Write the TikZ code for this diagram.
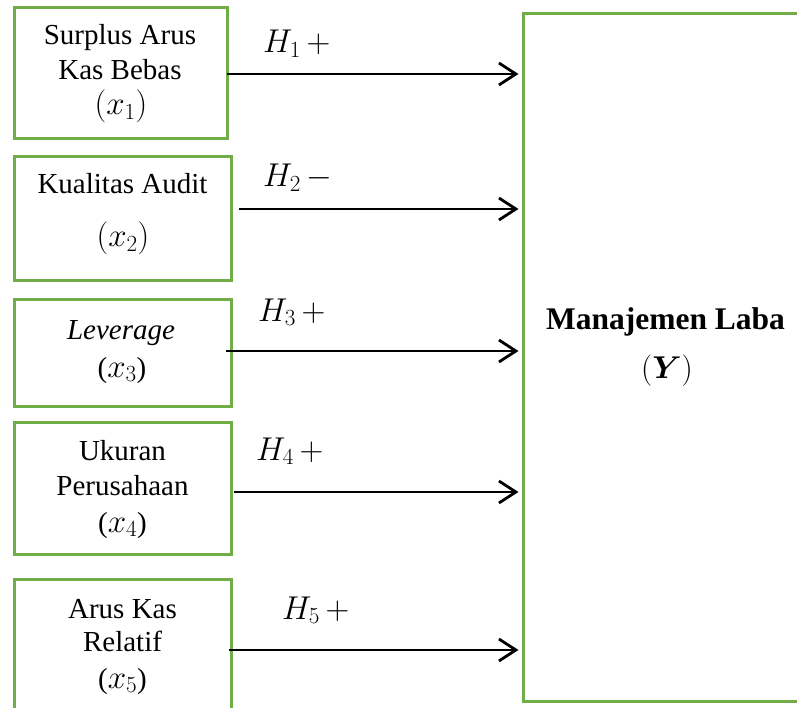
\documentclass[tikz,border=0pt]{standalone}
\usepackage{fix-cm}
\usepackage{amsmath}
\usepackage{fontspec}
\setmainfont{Liberation Serif}
\usetikzlibrary{arrows.meta}
\definecolor{boxgreen}{RGB}{112,173,71}
\tikzset{
  box/.style={draw=boxgreen, line width=3pt, rectangle, inner sep=0pt},
  txt/.style={anchor=base, inner sep=0pt, font=\fontsize{29}{35}\selectfont},
  mtxt/.style={anchor=base, inner sep=0pt, font=\fontsize{33}{38}\selectfont},
  btxt/.style={anchor=base, inner sep=0pt, font=\fontsize{31.5}{38}\selectfont\bfseries},
  hyp/.style={anchor=base west, inner sep=0pt, font=\fontsize{33}{38}\selectfont},
  link/.style={line width=2.8pt, -{Straight Barb[length=17pt,width=22pt,line width=2.8pt]}, shorten >=3pt}
}
\begin{document}
\begin{tikzpicture}[x=1pt,y=-1pt]
\useasboundingbox (0,0) rectangle (797,708);
% boxes
\node[box, minimum width=213, minimum height=131] (b1) at (120.5,73.5) {};
\node[box, minimum width=217, minimum height=124] (b2) at (122.5,219) {};
\node[box, minimum width=217, minimum height=106] (b3) at (122.5,353) {};
\node[box, minimum width=217, minimum height=132] (b4) at (122.5,488) {};
\node[box, minimum width=217, minimum height=136] (b5) at (122.5,647) {};
\node[box, minimum width=278, minimum height=687] (Y) at (662,357.5) {};
% texts
\node[txt] (t1a) at (120,45) {Surplus Arus};
\node[txt] (t1b) at (120,80) {Kas Bebas};
\node[mtxt] (t1c) at (121,115) {$(x_1)$};
\node[txt] (t2a) at (122.5,194) {Kualitas Audit};
\node[mtxt] (t2b) at (123,247) {$(x_2)$};
\node[txt] (t3a) at (121,339) {\itshape Leverage};
\node[txt] (t3b) at (122,377) {({\fontsize{33}{38}\selectfont$x_3$})};
\node[txt] (t4a) at (122.5,460) {Ukuran};
\node[txt] (t4b) at (122.5,495) {Perusahaan};
\node[txt] (t4c) at (122.5,532) {({\fontsize{33}{38}\selectfont$x_4$})};
\node[txt] (t5a) at (122.5,618) {Arus Kas};
\node[txt] (t5b) at (122.5,651) {Relatif};
\node[txt] (t5c) at (122.5,688) {({\fontsize{33}{38}\selectfont$x_5$})};
\node[btxt] (ya) at (665.5,329) {Manajemen Laba};
\node[btxt] (yb) at (667,378) {$(\boldsymbol{Y})$};
% start points
\coordinate (s1) at (227,74);
\coordinate (s2) at (239,209);
\coordinate (s3) at (226,351);
\coordinate (s4) at (234,492);
\coordinate (s5) at (229,650);
\draw[link] (s1) -- (Y.west |- s1);
\draw[link] (s2) -- (Y.west |- s2);
\draw[link] (s3) -- (Y.west |- s3);
\draw[link] (s4) -- (Y.west |- s4);
\draw[link] (s5) -- (Y.west |- s5);
% hypothesis labels
\node[hyp] (h1) at (263,53) {$H_1\,+$};
\node[hyp] (h2) at (263,187) {$H_2\,-$};
\node[hyp] (h3) at (258,321) {$H_3\,+$};
\node[hyp] (h4) at (256,460) {$H_4\,+$};
\node[hyp] (h5) at (282,619) {$H_5\,+$};
\end{tikzpicture}
\end{document}
